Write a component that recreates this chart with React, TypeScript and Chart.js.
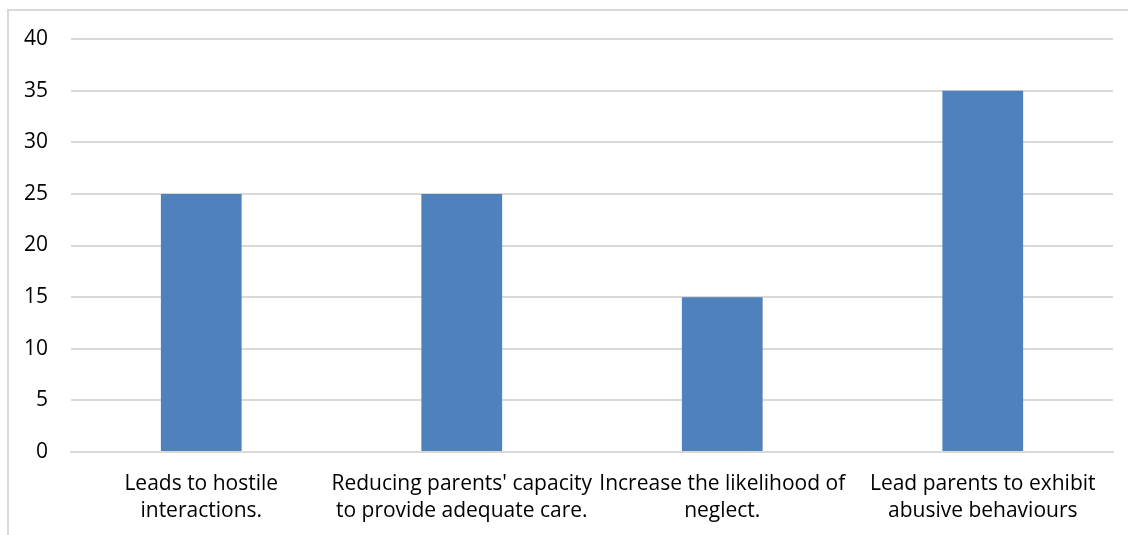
import React, { useEffect, useRef } from "react";
import { Chart, registerables } from "chart.js";

Chart.register(...registerables);

const categories: string[][] = [
  ["Leads to hostile", "interactions."],
  ["Reducing parents' capacity", "to provide adequate care."],
  ["Increase the likelihood of", "neglect."],
  ["Lead parents to exhibit", "abusive behaviours"],
];
const values: number[] = [25, 25, 15, 35];
const yMin = 0;
const yMax = 40;
const yStep = 5;

const FONT = "'Open Sans', 'Noto Sans', sans-serif";

const borderPlugin = {
  id: "outerBorder",
  beforeDraw(chart: any) {
    const ctx = chart.ctx;
    ctx.save();
    ctx.fillStyle = "#ffffff";
    ctx.fillRect(0, 0, chart.width, chart.height);
    ctx.strokeStyle = "#d9d9d9";
    ctx.lineWidth = 2;
    ctx.strokeRect(8, 10, chart.width + 20, chart.height + 20);
    ctx.restore();
  },
};

export default function App() {
  const ref = useRef<HTMLCanvasElement | null>(null);
  useEffect(() => {
    if (!ref.current) return;
    const chart = new Chart(ref.current, {
      type: "bar",
      data: {
        labels: categories,
        datasets: [
          {
            data: values,
            backgroundColor: "#4f81bd",
            borderWidth: 0,
            categoryPercentage: 1,
            barPercentage: 0.31,
          },
        ],
      },
      options: {
        animation: false,
        responsive: false,
        maintainAspectRatio: false,
        devicePixelRatio: 1,
        layout: { padding: { left: 0, right: 15, top: 39, bottom: 0 } },
        plugins: { legend: { display: false }, tooltip: { enabled: false } },
        scales: {
          x: {
            grid: { display: false, drawTicks: false },
            border: { display: true, color: "#d9d9d9", width: 2 },
            ticks: {
              color: "#000000",
              font: { family: FONT, size: 21, lineHeight: 1.29 },
              padding: 18,
              maxRotation: 0,
              autoSkip: false,
            },
            afterFit: (s: any) => {
              s.height = 83;
            },
          },
          y: {
            min: yMin,
            max: yMax,
            grid: { color: "#d9d9d9", lineWidth: 2, drawTicks: false },
            border: { display: false },
            ticks: {
              stepSize: yStep,
              color: "#000000",
              font: { family: FONT, size: 21 },
              padding: 23,
            },
            afterFit: (s: any) => {
              s.width = 71;
            },
          },
        },
      },
      plugins: [borderPlugin],
    });
    return () => chart.destroy();
  }, []);
  return (
    <div style={{ position: "fixed", left: 0, top: 0, width: 1128, height: 535 }}>
      <canvas ref={ref} width={1128} height={535} style={{ display: "block" }} />
    </div>
  );
}
